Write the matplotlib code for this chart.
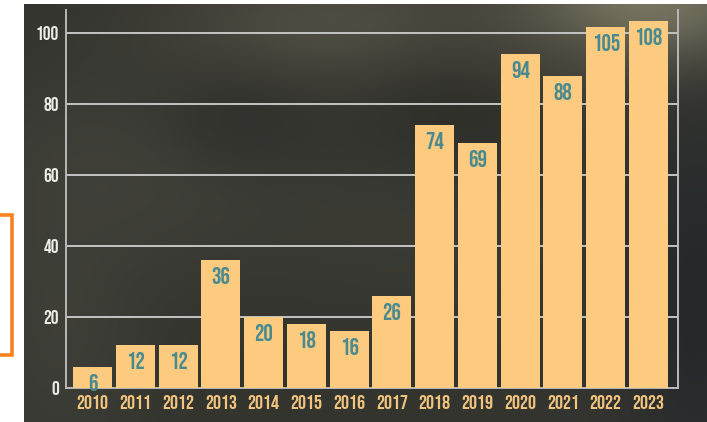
import numpy as np
import matplotlib.pyplot as plt
from matplotlib.patches import Rectangle

# ---- data ----
years = ['2010', '2011', '2012', '2013', '2014', '2015', '2016',
         '2017', '2018', '2019', '2020', '2021', '2022', '2023']
value_labels = [6, 12, 12, 36, 20, 18, 16, 26, 74, 69, 94, 88, 105, 108]
# bar heights as drawn in the reference (last two bars are drawn shorter than their labels)
bar_heights = [6, 12, 12, 36, 20, 18, 16, 26, 74, 69, 94, 88, 101.7, 103.4]
yticks = [0, 20, 40, 60, 80, 100]

W, H = 707, 422
BAR = '#FDCB80'
LABEL = '#4A8A8E'
FONT = ['Bebas Neue', 'DejaVu Sans']

fig = plt.figure(figsize=(W / 100, H / 100), dpi=100)
fig.patch.set_facecolor('white')

# ---- cloudy dark backdrop (decorative) ----
bx0, btop = 24, 4
bw, bh = W - bx0, H - btop
bg = fig.add_axes([bx0 / W, 0, bw / W, bh / H])
bg.axis('off')
yy, xx = np.mgrid[0:bh, 0:bw]
xx = xx + bx0
yy = yy + btop
img = np.ones((bh, bw, 3)) * np.array([0.205, 0.205, 0.185])
blobs = [
    (150, 170, 120, 70, (0.28, 0.28, 0.25), 0.6),
    (60, 320, 60, 110, (0.28, 0.28, 0.25), 0.5),
    (330, 25, 110, 45, (0.38, 0.37, 0.31), 0.6),
    (420, 230, 120, 60, (0.25, 0.25, 0.22), 0.5),
    (650, 5, 90, 45, (0.58, 0.56, 0.46), 0.75),
    (560, 70, 70, 40, (0.32, 0.31, 0.26), 0.5),
    (695, 300, 50, 130, (0.13, 0.15, 0.17), 0.8),
    (240, 120, 60, 40, (0.16, 0.16, 0.15), 0.5),
    (470, 110, 80, 40, (0.15, 0.15, 0.14), 0.5),
]
for cx, cy, sx, sy, col, s in blobs:
    w = s * np.exp(-(((xx - cx) / sx) ** 2 + ((yy - cy) / sy) ** 2) / 2)
    img = img * (1 - w[..., None]) + np.array(col) * w[..., None]
bg.imshow(img, aspect='auto', extent=[0, 1, 0, 1], transform=bg.transAxes)

# ---- main chart ----
ax = fig.add_axes([66 / W, 34 / H, 612 / W, 378 / H])
ax.set_facecolor('none')
x = np.arange(len(years))
ax.bar(x, bar_heights, width=0.91, color=BAR, zorder=3)
ax.set_xlim(-0.62, 13.69)
ax.set_ylim(0, 106.5)
ax.set_yticks(yticks)
ax.set_xticks(x)
ax.set_xticklabels(years)
ax.yaxis.grid(True, color='#c4c4c4', lw=1.4)
ax.set_axisbelow(True)
for s in ['left', 'right', 'bottom']:
    ax.spines[s].set_color('#b8b8b8')
    ax.spines[s].set_linewidth(1.4)
ax.spines['top'].set_visible(False)
ax.tick_params(length=0, pad=5)
for t in ax.get_yticklabels():
    t.set_color('#ecece6'); t.set_fontfamily(FONT); t.set_fontsize(14)
for t in ax.get_xticklabels():
    t.set_color('#F0C47E'); t.set_fontfamily(FONT); t.set_fontsize(14.5)

for i, (h, v) in enumerate(zip(bar_heights, value_labels)):
    ax.annotate(str(v), (i, h), xytext=(0, -5), textcoords='offset points',
                ha='center', va='top', color=LABEL, fontsize=17,
                family=FONT, zorder=4)

# ---- orange outlined box at left edge ----
fig.add_artist(Rectangle((-10 / W, (H - 355) / H), 21.5 / W, 140 / H,
                         transform=fig.transFigure, fill=False,
                         edgecolor='#F7821E', lw=2.6))

fig.savefig('out.png', dpi=100)
